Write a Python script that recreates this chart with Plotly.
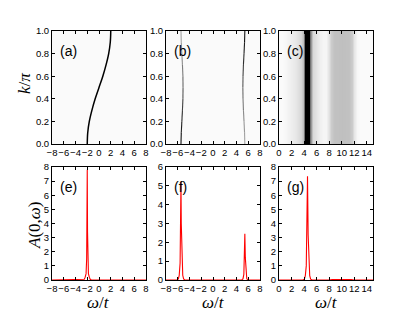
import plotly.graph_objects as go

# ---------------- data ----------------
# (a) dispersion line: k/pi vs omega/t
k_a = [0.0, 0.1, 0.2, 0.3, 0.4, 0.5, 0.6, 0.7, 0.8, 0.9, 1.0]
w_a = [-2.0, -1.92, -1.65, -1.2, -0.65, 0.0, 0.65, 1.2, 1.65, 1.92, 2.0]

# (b) two bands with varying weight (darkness 0..1)
k_b = [0.0, 0.1, 0.2, 0.3, 0.4, 0.5, 0.6, 0.7, 0.8, 0.9, 1.0]
w_b_low = [-5.45, -5.4, -5.3, -5.2, -5.12, -5.1, -5.12, -5.2, -5.3, -5.4, -5.45]
wt_b_low = [0.95, 0.9, 0.85, 0.78, 0.7, 0.62, 0.55, 0.48, 0.42, 0.38, 0.35]
w_b_up = [5.42, 5.37, 5.28, 5.18, 5.11, 5.08, 5.11, 5.18, 5.28, 5.37, 5.42]
wt_b_up = [0.35, 0.38, 0.42, 0.48, 0.55, 0.62, 0.7, 0.78, 0.85, 0.9, 0.95]

# (c) k-independent intensity map
w_c = [0.0, 0.5, 1.0, 1.5, 2.0, 2.5, 3.0, 3.5, 3.8, 4.0, 4.2, 4.5, 4.8, 5.0, 5.2,
       5.5, 6.0, 6.5, 7.0, 7.5, 7.9, 8.3, 8.8, 10.0, 11.2, 11.6, 12.0, 12.5, 13.0, 14.0, 15.0]
i_c = [0.02, 0.02, 0.03, 0.05, 0.07, 0.09, 0.12, 0.16, 0.25, 0.55, 1.0, 1.0, 1.0, 0.55, 0.25,
       0.15, 0.1, 0.06, 0.04, 0.04, 0.12, 0.2, 0.24, 0.25, 0.24, 0.2, 0.1, 0.03, 0.02, 0.02, 0.02]
k_c = [0.0, 1.0]

# (e) A(0,w)
w_e = [-8, -2.7, -2.5, -2.35, -2.2, -2.1, -2.05, -2.0, -1.95, -1.9, -1.8, -1.65, -1.5, -1.3, 8]
A_e = [0, 0.0, 0.05, 0.2, 0.45, 1.5, 3.4, 7.8, 3.4, 1.5, 0.45, 0.2, 0.05, 0.0, 0]

# (f)
w_f = [-8, -6.1, -5.9, -5.75, -5.6, -5.5, -5.45, -5.4, -5.3, -5.15, -5.0, -4.8,
       4.9, 5.1, 5.25, 5.35, 5.42, 5.5, 5.6, 5.75, 5.95, 8]
A_f = [0, 0.0, 0.06, 0.25, 0.9, 3.0, 5.2, 3.0, 0.9, 0.25, 0.06, 0.0,
       0.0, 0.06, 0.3, 1.2, 2.45, 1.2, 0.3, 0.06, 0.0, 0]

# (g)
w_g = [0, 3.8, 4.05, 4.2, 4.35, 4.45, 4.55, 4.65, 4.75, 4.9, 5.05, 5.3, 8.0, 8.5, 11.5, 12.0, 15]
A_g = [0, 0.0, 0.06, 0.3, 1.0, 3.2, 7.35, 3.2, 1.0, 0.3, 0.06, 0.0, 0.0, 0.03, 0.03, 0.0, 0]

panel_labels = ["(a)", "(b)", "(c)", "(e)", "(f)", "(g)"]

# ---------------- figure ----------------
W, H = 415, 312
fig = go.Figure()

xdom = [(52 / W, 146 / W), (166 / W, 260 / W), (279 / W, 373 / W)]
ytop = (1 - 144 / H, 1 - 31 / H)
ybot = (1 - 280 / H, 1 - 167 / H)

# (a)
fig.add_trace(go.Scatter(x=w_a, y=k_a, mode="lines", line=dict(color="black", width=1.5, shape="spline"),
                         xaxis="x", yaxis="y", showlegend=False, hoverinfo="skip"))


def gray(v):
    g = int(round(255 * (1 - v)))
    return f"rgb({g},{g},{g})"


# (b) segments with varying darkness
for ws, wts in ((w_b_low, wt_b_low), (w_b_up, wt_b_up)):
    for i in range(len(k_b) - 1):
        fig.add_trace(go.Scatter(x=ws[i:i + 2], y=k_b[i:i + 2], mode="lines",
                                 line=dict(color=gray((wts[i] + wts[i + 1]) / 2), width=1.1),
                                 xaxis="x2", yaxis="y2", showlegend=False, hoverinfo="skip"))

# (c)
fig.add_trace(go.Heatmap(x=w_c, y=k_c, z=[i_c, i_c], colorscale=[[0, "white"], [1, "black"]],
                         zmin=0, zmax=1, zsmooth="best", showscale=False, xaxis="x3", yaxis="y3",
                         hoverinfo="skip"))

# (e),(f),(g)
for xs, ys, ax in ((w_e, A_e, "4"), (w_f, A_f, "5"), (w_g, A_g, "6")):
    fig.add_trace(go.Scatter(x=xs, y=ys, mode="lines", line=dict(color="red", width=1.1),
                             xaxis="x" + ax, yaxis="y" + ax, showlegend=False, hoverinfo="skip"))

tickfont = dict(family="Liberation Sans, Arial", size=9.5, color="black")
axcommon = dict(showline=True, linecolor="black", linewidth=1, mirror="ticks", ticks="inside",
                ticklen=3, tickcolor="black", tickwidth=1, showgrid=False, zeroline=False,
                tickfont=tickfont, tickangle=0, automargin=False)

xranges = [[-8, 8], [-8, 8], [0, 15], [-8, 8], [-8, 8], [0, 15]]
yranges = [[0, 1], [0, 1], [0, 1], [0, 8], [0, 6], [0, 8]]
layout = {}
for n in range(6):
    suf = "" if n == 0 else str(n + 1)
    xd = xdom[n % 3]
    yd = ytop if n < 3 else ybot
    layout["xaxis" + suf] = dict(axcommon, domain=list(xd), range=xranges[n], dtick=2, tick0=0,
                                 anchor="y" + suf)
    if n < 3:
        layout["yaxis" + suf] = dict(axcommon, domain=list(yd), range=yranges[n], dtick=0.2,
                                     tickformat=".1f", anchor="x" + suf)
    else:
        layout["yaxis" + suf] = dict(axcommon, domain=list(yd), range=yranges[n], dtick=1,
                                     anchor="x" + suf)

annotations = []
for n, lab in enumerate(panel_labels):
    suf = "" if n == 0 else str(n + 1)
    annotations.append(dict(text=lab, xref=("x" + suf + " domain"), yref=("y" + suf + " domain"),
                            x=0.06, y=0.82, xanchor="left", yanchor="middle", showarrow=False,
                            font=dict(family="Liberation Sans, Arial", size=14, color="black")))

mathfont = dict(family="Liberation Serif, Times New Roman", size=17, color="black")
annotations.append(dict(text="<i>k</i>/<i>π</i>", xref="paper", yref="paper", x=25 / W, y=1 - 84 / H,
                        textangle=-90, showarrow=False, font=mathfont, xanchor="center", yanchor="middle"))
annotations.append(dict(text="<i>A</i>(0,<i>ω</i>)", xref="paper", yref="paper", x=34 / W, y=1 - 225 / H,
                        textangle=-90, showarrow=False, font=mathfont, xanchor="center", yanchor="middle"))
for xd in xdom:
    annotations.append(dict(text="<i>ω</i>/<i>t</i>", xref="paper", yref="paper", x=(xd[0] + xd[1]) / 2,
                            y=1 - 302 / H, showarrow=False, font=mathfont, xanchor="center", yanchor="middle"))

# light background for the spectral-map panels (a) and (b)
shapes = [dict(type="rect", xref=xr + " domain", yref=yr + " domain", x0=0, x1=1, y0=0, y1=1,
               fillcolor="#fafafa", line=dict(width=0), layer="below")
          for xr, yr in (("x", "y"), ("x2", "y2"))]

fig.update_layout(width=W, height=H, margin=dict(l=0, r=0, t=0, b=0, pad=0), paper_bgcolor="white",
                  plot_bgcolor="white", annotations=annotations, shapes=shapes, **layout)

fig.write_html("out.html", config={"displayModeBar": False},
               post_script="document.body.style.margin='0';document.body.style.overflow='hidden';")
